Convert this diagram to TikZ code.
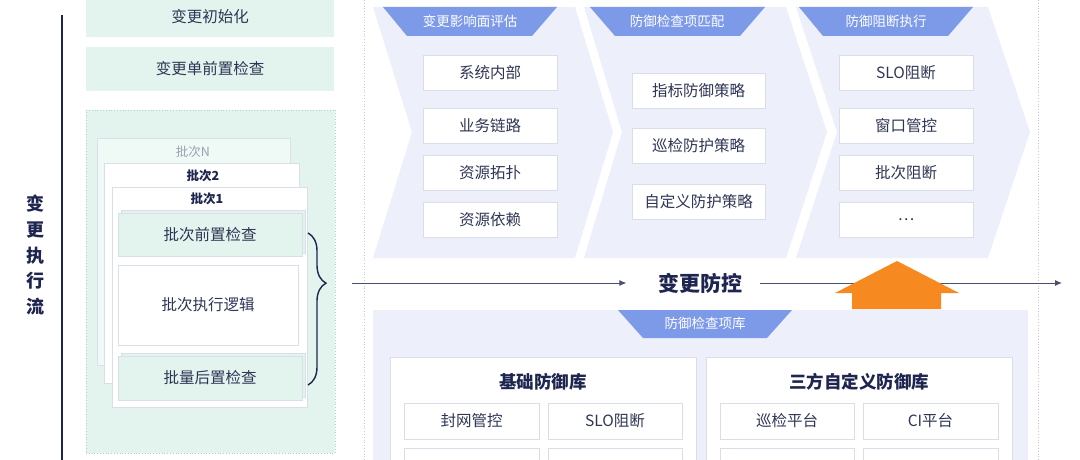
\documentclass[tikz,border=0pt]{standalone}
\usepackage{fontspec}
\setmainfont{Noto Sans CJK SC}
\usetikzlibrary{arrows.meta,decorations.pathreplacing}
\definecolor{navy}{HTML}{1E2550}
\definecolor{txt}{HTML}{2F3655}
\definecolor{mint}{HTML}{E3F4EE}
\definecolor{mintcard}{HTML}{EFF9F6}
\definecolor{mintb}{HTML}{A3D8C6}
\definecolor{lav}{HTML}{EDF0FB}
\definecolor{rib}{HTML}{7D9AE9}
\definecolor{bord}{HTML}{DADEE9}
\definecolor{org}{HTML}{F6891F}
\definecolor{arr}{HTML}{4A5070}
\definecolor{sep}{HTML}{C5CAD6}
\definecolor{graytxt}{HTML}{9AA0B2}
\begin{document}
\begin{tikzpicture}[x=1pt,y=-1pt,
  sz/.style 2 args={minimum width=#1pt, minimum height=#2pt},
  base/.style={inner sep=0pt, outer sep=0pt, anchor=north west, text=txt,
    font=\fontsize{15.5}{18}\selectfont},
  wbox/.style={base, draw=bord, line width=0.8pt, fill=white},
  mbox/.style={base, fill=mint},
  mcard/.style={base, draw=bord, line width=0.8pt, fill=mint},
  ribtxt/.style={text=white, font=\fontsize{13.5}{16}\selectfont},
  ttl/.style={text=navy, font=\fontsize{17.5}{20}\selectfont\bfseries},
  btitle/.style={font=\fontsize{12.5}{15}\selectfont},
  flow/.style={arr, line width=1pt, -{Latex[length=7pt,width=6pt]}},
  chev/.style={fill=lav},
  ribbon/.style={fill=rib},
  vsep/.style={sep, line width=0.8pt, dotted}
]
\useasboundingbox (0,0) rectangle (1080,460);
\clip (0,0) rectangle (1080,460);
\fill[white] (0,0) rectangle (1080,460);

% ---------- left column ----------
\draw[navy, line width=1.6pt] (62,15) -- (62,470);
\node[text=navy, font=\fontsize{18}{25.7}\selectfont\bfseries, align=center] (vt) at (36,255) {变\\更\\执\\行\\流};

\node[mbox, sz={248}{41}] (init) at (86,-4) {变更初始化};
\node[mbox, sz={248}{44}] (pre) at (86,47) {变更单前置检查};
\node[base, fill=mint, draw=mintb, dotted, line width=0.8pt, sz={249}{343}] (grp) at (86,110) {};

\node[base, draw=bord, line width=0.8pt, fill=mintcard, sz={193}{227}] (bN) at (97,138) {};
\node[btitle, text=graytxt] (tN) at (193,152) {批次N};
\node[base, draw=bord, line width=0.8pt, fill=white, sz={195}{220}] (b2) at (104,163) {};
\node[btitle, text=navy, font=\fontsize{12.5}{15}\selectfont\bfseries] (t2) at (203,176) {批次2};
\node[base, draw=bord, line width=0.8pt, fill=white, sz={195}{220}] (b1) at (112,187) {};
\node[btitle, text=navy, font=\fontsize{12.5}{15}\selectfont\bfseries] (t1) at (207,199) {批次1};

\node[mcard, sz={184}{43}] (bpreb) at (121,210) {};
\node[mcard, sz={184}{43}] (bpref) at (118,213) {批次前置检查};
\node[wbox, sz={180}{80}] (bexec) at (118,265) {批次执行逻辑};
\node[mcard, sz={184}{44}] (bpostb) at (121,353) {};
\node[mcard, sz={184}{44}] (bpostf) at (118,356) {批量后置检查};

\draw[navy, line width=1.4pt, decorate, decoration={brace, amplitude=18pt, aspect=0.33}]
  (308,233) -- (308,385);

% ---------- separators ----------
\draw[vsep] (364,0) -- (364,460);
\draw[vsep] (1038,0) -- (1038,460);

% ---------- chevrons ----------
\path[chev] (373,7) -- (575,7) -- (613,132) -- (575,258) -- (373,258) -- (412,132) -- cycle;
\path[chev] (584,7) -- (786,7) -- (827,132) -- (786,258) -- (584,258) -- (622,132) -- cycle;
\path[chev] (796,7) -- (988,7) -- (1030,132) -- (988,258) -- (796,258) -- (837,132) -- cycle;

\path[ribbon] (383,7) -- (557,7) -- (532,36) -- (407,36) -- cycle;
\path[ribbon] (590,7) -- (765,7) -- (740,36) -- (615,36) -- cycle;
\path[ribbon] (799,7) -- (973,7) -- (948,36) -- (823,36) -- cycle;
\node[ribtxt] (r1) at (470,21) {变更影响面评估};
\node[ribtxt] (r2) at (677,21) {防御检查项匹配};
\node[ribtxt] (r3) at (886,21) {防御阻断执行};

\node[wbox, sz={134}{35}] (p1a) at (423,55) {系统内部};
\node[wbox, sz={134}{35}] (p1b) at (423,108) {业务链路};
\node[wbox, sz={134}{35}] (p1c) at (423,155) {资源拓扑};
\node[wbox, sz={134}{35}] (p1d) at (423,202) {资源依赖};

\node[wbox, sz={133}{35}] (p2a) at (632,73) {指标防御策略};
\node[wbox, sz={133}{35}] (p2b) at (632,128) {巡检防护策略};
\node[wbox, sz={133}{35}] (p2c) at (632,184) {自定义防护策略};

\node[wbox, sz={134}{35}] (p3a) at (839,55) {SLO阻断};
\node[wbox, sz={134}{35}] (p3b) at (839,108) {窗口管控};
\node[wbox, sz={134}{35}] (p3c) at (839,155) {批次阻断};
\node[wbox, sz={134}{35}] (p3d) at (839,202) {…};

% ---------- flow line ----------
\coordinate (fs) at (352,283);
\coordinate (fe) at (1062,283);
\node[text=navy, font=\fontsize{21}{24}\selectfont\bfseries] (ctl) at (700,283) {变更防控};
\draw[flow] (fs) -- ([xshift=-28pt]ctl.west);
\draw[flow] ([xshift=14pt]ctl.east) -- (fe);

% ---------- library ----------
\fill[lav] (373,310) rectangle (1028,470);
\path[ribbon] (618,310) -- (792,310) -- (767,338) -- (643,338) -- cycle;
\node[ribtxt] (r4) at (705,323) {防御检查项库};

\node[wbox, sz={306}{120}] (lib1) at (390,357) {};
\node[ttl] (lib1t) at (543,382) {基础防御库};
\node[wbox, sz={135}{36}] (l1a) at (404,403) {封网管控};
\node[wbox, sz={134}{36}] (l1b) at (548,403) {SLO阻断};
\node[wbox, sz={135}{36}] (l1c) at (404,448) {};
\node[wbox, sz={134}{36}] (l1d) at (548,448) {};

\node[wbox, sz={306}{120}] (lib2) at (706,357) {};
\node[ttl] (lib2t) at (859,382) {三方自定义防御库};
\node[wbox, sz={134}{36}] (l2a) at (720,403) {巡检平台};
\node[wbox, sz={135}{36}] (l2b) at (863,403) {CI平台};
\node[wbox, sz={134}{36}] (l2c) at (720,448) {};
\node[wbox, sz={135}{36}] (l2d) at (863,448) {};

% ---------- orange arrow ----------
\fill[org] (897,261) -- (959,293) -- (941,293) -- (941,309) -- (852,309) -- (852,293) -- (835,293) -- cycle;
\end{tikzpicture}
\end{document}
